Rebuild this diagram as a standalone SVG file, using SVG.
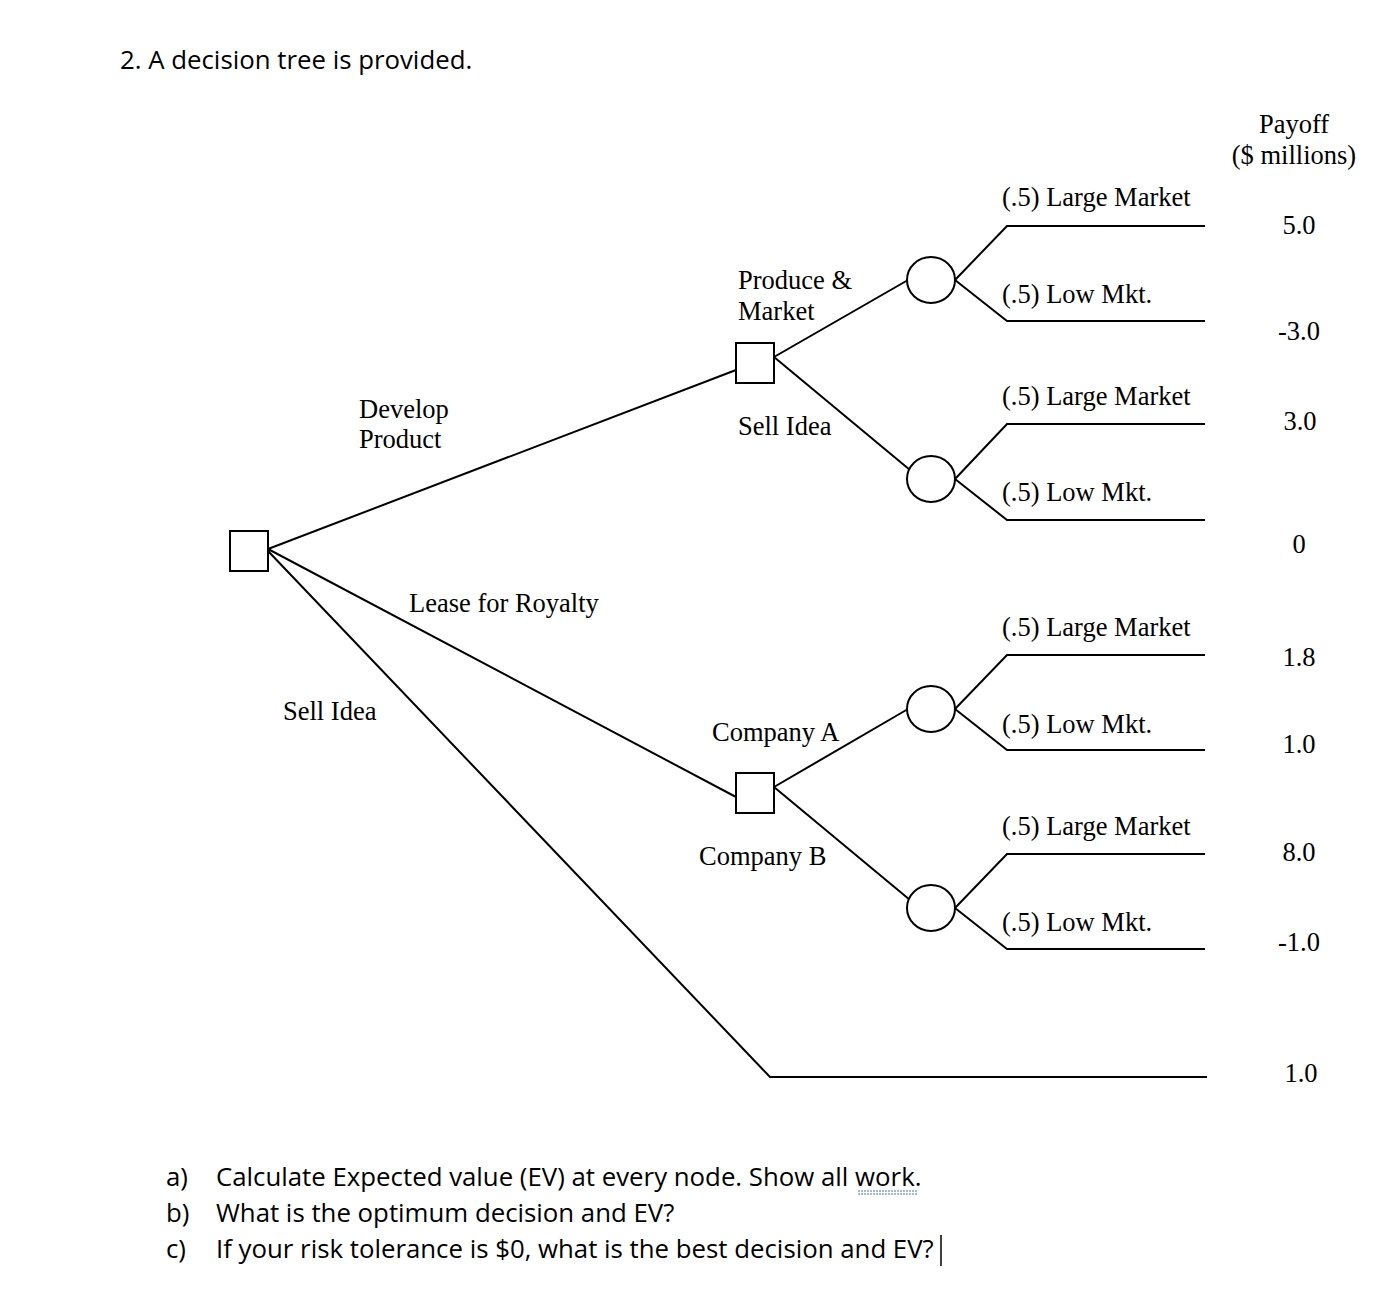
<svg xmlns="http://www.w3.org/2000/svg" width="1398" height="1312" viewBox="0 0 1398 1312">
<style>
.t{font-family:"Liberation Serif",serif;font-size:26.5px;fill:#000}
.s{font-family:"Open Sans","Liberation Sans",sans-serif;font-size:25.8px;fill:#000}
.l{stroke:#000;stroke-width:2;fill:none}
.n{stroke:#000;stroke-width:2;fill:#fff}
.m{text-anchor:middle}
</style>
<rect width="1398" height="1312" fill="#fff"/>
<text class="s" x="120" y="69">2. A decision tree is provided.</text>
<g id="connectors">
<path class="l" d="M268,549 L736,370 M268,549 L736,797 M268,551 L770,1077 L1207,1077"/>
<path class="l" d="M774,357 L908,280 M774,357 L910,470"/>
<path class="l" d="M955,280 L1007,226 L1205,226 M955,280 L1007,321 L1205,321"/>
<path class="l" d="M955,479 L1007,424 L1205,424 M955,479 L1007,520 L1205,520"/>
<path class="l" d="M774,787 L908,709 M774,787 L910,900"/>
<path class="l" d="M955,709 L1007,655 L1205,655 M955,709 L1007,750 L1205,750"/>
<path class="l" d="M955,908 L1007,854 L1205,854 M955,908 L1007,949 L1205,949"/>
</g>
<g id="root"><rect class="n" x="230" y="531" width="38" height="40"/></g>
<g id="d1"><rect class="n" x="736" y="343" width="38" height="40"/></g>
<g id="d2"><rect class="n" x="736" y="773" width="38" height="40"/></g>
<g id="c1"><ellipse class="n" cx="931" cy="280" rx="24" ry="23"/></g>
<g id="c2"><ellipse class="n" cx="931" cy="479" rx="24" ry="23"/></g>
<g id="c3"><ellipse class="n" cx="931" cy="709" rx="24" ry="23"/></g>
<g id="c4"><ellipse class="n" cx="931" cy="908" rx="24" ry="23"/></g>
<g id="labels">
<text class="t m" x="1294" y="133">Payoff</text>
<text class="t m" x="1294" y="164">($ millions)</text>
<text class="t" x="359" y="418">Develop</text>
<text class="t" x="359" y="448">Product</text>
<text class="t" x="409" y="612">Lease for Royalty</text>
<text class="t" x="283" y="720">Sell Idea</text>
<text class="t" x="738" y="289">Produce &amp;</text>
<text class="t" x="738" y="320">Market</text>
<text class="t" x="738" y="435">Sell Idea</text>
<text class="t" x="712" y="741">Company A</text>
<text class="t" x="699" y="865">Company B</text>
<text class="t" x="1002" y="206">(.5) Large Market</text>
<text class="t" x="1002" y="303">(.5) Low Mkt.</text>
<text class="t" x="1002" y="405">(.5) Large Market</text>
<text class="t" x="1002" y="501">(.5) Low Mkt.</text>
<text class="t" x="1002" y="636">(.5) Large Market</text>
<text class="t" x="1002" y="733">(.5) Low Mkt.</text>
<text class="t" x="1002" y="835">(.5) Large Market</text>
<text class="t" x="1002" y="931">(.5) Low Mkt.</text>
<text class="t m" x="1299" y="234">5.0</text>
<text class="t m" x="1299" y="340">-3.0</text>
<text class="t m" x="1300" y="430">3.0</text>
<text class="t m" x="1299" y="553">0</text>
<text class="t m" x="1299" y="666">1.8</text>
<text class="t m" x="1299" y="753">1.0</text>
<text class="t m" x="1299" y="861">8.0</text>
<text class="t m" x="1299" y="951">-1.0</text>
<text class="t m" x="1301" y="1082">1.0</text>
</g>
<text class="s" x="166" y="1186">a)</text>
<text class="s" x="216" y="1186">Calculate Expected value (EV) at every node. Show all work.</text>
<text class="s" x="166" y="1222">b)</text>
<text class="s" x="216" y="1222">What is the optimum decision and EV?</text>
<text class="s" x="166" y="1258">c)</text>
<text class="s" x="216" y="1258">If your risk tolerance is $0, what is the best decision and EV?</text>
<path d="M858,1191 H918 M858,1194 H918" stroke="#4472c4" stroke-width="1.2" stroke-dasharray="2,1"/>
<path d="M941,1235 V1266" stroke="#000" stroke-width="1.5"/>
</svg>
